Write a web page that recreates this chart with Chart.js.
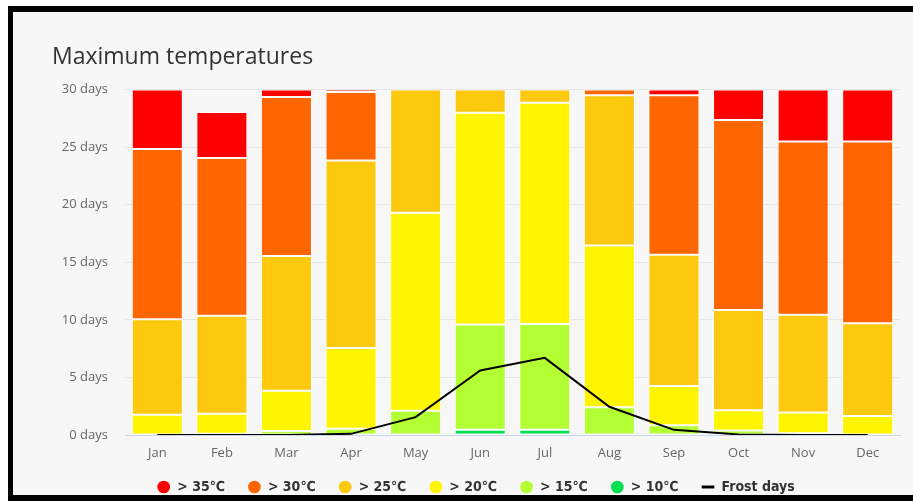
<!DOCTYPE html>
<html lang="en">
<head>
<meta charset="UTF-8">
<title>Maximum temperatures</title>
<script src="https://cdn.jsdelivr.net/npm/chart.js"></script>
<style>
  html, body { margin: 0; padding: 0; background: #fff; overflow: hidden; width: 913px; height: 501px; }
  .panel { position: absolute; left: 8px; top: 6px; width: 920px; height: 495px; background: #f7f7f7;
           border-left: 5px solid #000; border-top: 6px solid #000; box-sizing: border-box; }
  .bottom { position: absolute; left: 8px; top: 495px; width: 920px; height: 6px; background: #000; z-index: 2; }
  .wrap { position: absolute; left: 13px; top: 12px; width: 900px; height: 492px; }
</style>
</head>
<body>
<div class="panel"></div>
<div class="wrap"><canvas id="maxTemps"></canvas></div>
<div class="bottom"></div>
<script>
// Месяцы
const months = ['Jan', 'Feb', 'Mar', 'Apr', 'May', 'Jun', 'Jul', 'Aug', 'Sep', 'Oct', 'Nov', 'Dec'];

// Дни с максимальной температурой в каждом диапазоне
const above35 = [5.15, 4.0, 0.65, 0.2, null, null, null, null, 0.5, 2.65, 4.5, 4.5];
const above30 = [14.8, 13.7, 13.8, 5.95, null, null, null, 0.5, 13.85, 16.5, 15.05, 15.8];
const above25 = [8.3, 8.5, 11.7, 16.3, 10.7, 2.0, 1.15, 13.05, 11.4, 8.7, 8.5, 8.05];
const above20 = [1.75, 1.75, 3.5, 7.0, 17.2, 18.4, 19.2, 14.05, 3.4, 1.75, 1.8, 1.65];
const above15 = [null, 0.1, 0.35, 0.55, 2.1, 9.15, 9.2, 2.4, 0.85, 0.4, 0.15, null];
const above10 = [null, null, null, null, null, 0.45, 0.45, null, null, null, null, null];
const frostDays = [0, 0, 0, 0.1, 1.55, 5.6, 6.7, 2.45, 0.45, 0.05, 0, 0];

Chart.defaults.font.family = "'Open Sans', 'Noto Sans', sans-serif";
Chart.defaults.color = '#666';

const bar = (label, data, color, order) => ({
    type: 'bar',
    label: label,
    data: data,
    backgroundColor: color,
    borderColor: '#ffffff',
    borderWidth: 1,
    borderSkipped: false,
    pointStyle: 'circle',
    stack: 'temps',
    order: order,
    barPercentage: 0.79,
    categoryPercentage: 1
});

// подписи оси X не должны обрезаться по высоте оси
const unclipX = {
    id: 'unclipX',
    afterLayout: chart => { chart.scales.x.bottom += 12; }
};

new Chart(document.getElementById('maxTemps'), {
    data: {
        labels: months,
        datasets: [
            bar('> 35℃', above35, '#ff0000', 6),
            bar('> 30℃', above30, '#ff6600', 5),
            bar('> 25℃', above25, '#fdc90f', 4),
            bar('> 20℃', above20, '#fff500', 3),
            bar('> 15℃', above15, '#b4ff33', 2),
            bar('> 10℃', above10, '#00e050', 1),
            {
                type: 'line',
                label: 'Frost days',
                data: frostDays,
                borderColor: '#000000',
                backgroundColor: '#000000',
                borderWidth: 2,
                pointRadius: 0,
                pointStyle: 'line',
                tension: 0,
                fill: false,
                stack: 'frost',
                order: 0
            }
        ]
    },
    plugins: [unclipX],
    options: {
        responsive: true,
        maintainAspectRatio: false,
        animation: false,
        layout: { padding: { left: 39, right: 13, top: 32, bottom: 0 } },
        plugins: {
            title: {
                display: true,
                text: 'Maximum temperatures',
                align: 'start',
                color: '#333',
                font: { size: 23, weight: 'normal' },
                padding: { top: 0, bottom: 18 }
            },
            legend: {
                position: 'bottom',
                labels: {
                    usePointStyle: true,
                    boxWidth: 13,
                    boxHeight: 9,
                    padding: 23,
                    color: '#333',
                    font: { family: "'Liberation Sans Narrow', 'DejaVu Sans Condensed', sans-serif", size: 14, weight: 'bold' },
                    sort: (a, b) => a.datasetIndex - b.datasetIndex,
                    generateLabels: chart => Chart.defaults.plugins.legend.labels.generateLabels(chart).map(item => {
                        if (item.pointStyle === 'line') {
                            item.lineWidth = 3;
                        } else {
                            item.lineWidth = 0;
                            item.strokeStyle = item.fillStyle;
                        }
                        return item;
                    })
                }
            },
            tooltip: { enabled: false }
        },
        scales: {
            x: {
                stacked: true,
                grid: { display: false, drawTicks: false },
                border: { display: true, color: '#ccd6eb', width: 1 },
                ticks: { padding: 10, font: { size: 13 }, color: '#666' },
                afterFit: scale => { scale.height = 22; }
            },
            y: {
                stacked: true,
                min: 0,
                max: 30,
                grid: { color: '#e6e6e6', drawTicks: false },
                border: { display: false },
                ticks: {
                    stepSize: 5,
                    padding: 17,
                    font: { size: 13 },
                    color: '#666',
                    callback: v => v + ' days'
                },
                afterFit: scale => { scale.width = 73; }
            }
        }
    }
});
</script>
</body>
</html>
